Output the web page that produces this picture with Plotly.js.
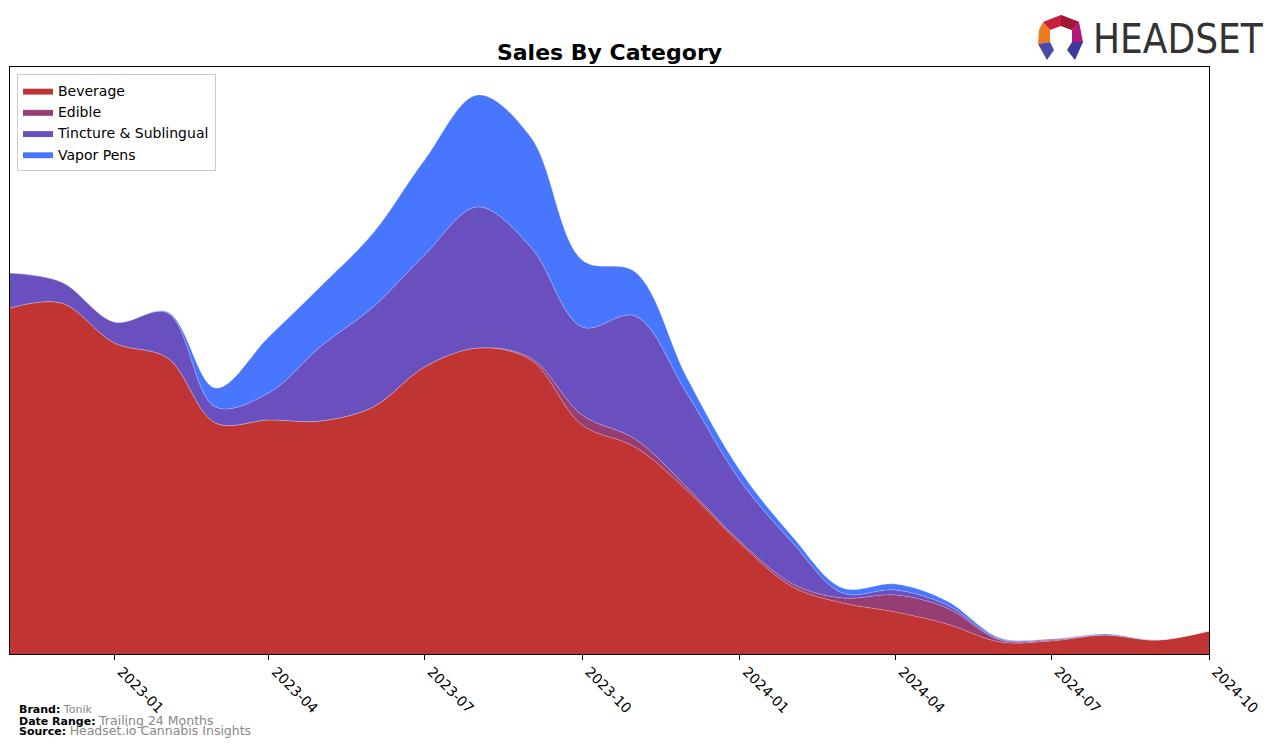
<!DOCTYPE html>
<html>
<head>
<meta charset="utf-8">
<script src="https://cdn.plot.ly/plotly-3.0.1.min.js"></script>
<style>
html,body{margin:0;padding:0;background:#fff;}
#chart{width:1276px;height:747px;}
</style>
</head>
<body>
<div id="chart"></div>
<script>
const months = ["2022-11-01","2022-12-01","2023-01-01","2023-02-01","2023-03-01","2023-04-01","2023-05-01","2023-06-01","2023-07-01","2023-08-01","2023-09-01","2023-10-01","2023-11-01","2023-12-01","2024-01-01","2024-02-01","2024-03-01","2024-04-01","2024-05-01","2024-06-01","2024-07-01","2024-08-01","2024-09-01","2024-10-01"];
const beverage = [346,351,311,296,231,234,233,247,287,306,294,229,207,164,111,67,51,42,30,12,13,19,14,23];
const edible = [0,0,0,0,0,0,0,0,0,0,2,10,8,3,2,3,5,17,16,2,1,0,0,0];
const tincture = [35,21,21,45,16,27,74,100,112,141,111,88,123,94,61,41,5,5,3,1,1,0,0,0];
const vaporPens = [0,0,0,1,19,56,60,74,95,112,110,67,44,16,10,6,5,6,4,1,0,1,0,0];
const tickVals = ["2023-01-01","2023-04-01","2023-07-01","2023-10-01","2024-01-01","2024-04-01","2024-07-01","2024-10-01"];
const tickText = ["2023-01","2023-04","2023-07","2023-10","2024-01","2024-04","2024-07","2024-10"];

const series = [
  {name:"Beverage", y:beverage, color:"#c13434"},
  {name:"Edible", y:edible, color:"#963e73"},
  {name:"Tincture & Sublingual", y:tincture, color:"#6a4fbe"},
  {name:"Vapor Pens", y:vaporPens, color:"#4876ff"}
];

const traces = series.map(s => ({
  type:"scatter", mode:"lines", name:s.name, x:months, y:s.y,
  stackgroup:"one", fillcolor:s.color,
  line:{shape:"spline", smoothing:1, width:0.7, color:"rgba(255,255,255,0.35)"},
  hoverinfo:"x+y+name"
}));

// pixel -> paper helpers for decorations
const L=10,R=1209,T=67,B=654;
const px=x=>(x-L)/(R-L), py=y=>(B-y)/(B-T);
function path(pts){return "M"+pts.map(p=>px(p[0])+","+py(p[1])).join(" L")+" Z";}
const logoParts = [
  {p:[[1043,22],[1061,15],[1079,22],[1072,30],[1061,26],[1050,30]], c:"#c8203a"},
  {p:[[1061,15],[1079,22],[1072,30],[1061,26]], c:"#a01838"},
  {p:[[1043,22],[1050,30],[1050,42],[1038,44],[1039,30]], c:"#f07a22"},
  {p:[[1079,22],[1083,42],[1072,42],[1072,30]], c:"#b5167a"},
  {p:[[1038,44],[1050,42],[1054,50],[1047,60]], c:"#4a4aa8"},
  {p:[[1072,42],[1083,42],[1075,60],[1067,50]], c:"#3a3a9a"}
];
const shapes = logoParts.map(o=>({type:"path", xref:"paper", yref:"paper", path:path(o.p), fillcolor:o.c, line:{width:0}, layer:"above"}));

const foot = (yPix, label, value, vsize) => ({
  xref:"paper", yref:"paper", x:px(17), y:py(yPix), xanchor:"left", yanchor:"middle", showarrow:false,
  text:"<b>"+label+"</b> <span style='color:#888888;font-size:"+vsize+"px'>"+value+"</span>",
  font:{family:"DejaVu Sans", size:11, color:"#000"}
});

const layout = {
  width:1276, height:747,
  margin:{l:L, r:1276-R, t:T, b:747-B},
  paper_bgcolor:"#fff", plot_bgcolor:"#fff",
  font:{family:"DejaVu Sans", color:"#000"},
  title:{text:"<b>Sales By Category</b>", x:(L+R)/2/1276, xanchor:"center", y:1-52/747, yanchor:"middle", font:{family:"DejaVu Sans", size:22, color:"#000"}},
  showlegend:true,
  legend:{x:px(17), y:py(74), xanchor:"left", yanchor:"top", bgcolor:"#fff", bordercolor:"#cccccc", borderwidth:1, font:{family:"DejaVu Sans", size:14, color:"#000"}, traceorder:"normal", tracegroupgap:0, itemwidth:30},
  xaxis:{type:"date", range:["2022-11-01","2024-10-01"], tickvals:tickVals, ticktext:tickText, tickangle:45, ticks:"outside", ticklen:5, tickcolor:"#000", ticklabelshift:7, ticklabelstandoff:-2, showline:true, linecolor:"#000", linewidth:1, mirror:true, showgrid:false, zeroline:false, tickfont:{family:"DejaVu Sans", size:14, color:"#000"}},
  yaxis:{range:[0,587], showticklabels:false, ticks:"", showline:true, linecolor:"#000", linewidth:1, mirror:true, showgrid:false, zeroline:false},
  shapes:shapes,
  annotations:[
    {xref:"paper", yref:"paper", x:px(1091), y:py(39), xanchor:"left", yanchor:"middle", showarrow:false, text:"HEADSET", font:{family:"DejaVu Sans Condensed, Liberation Sans Narrow, DejaVu Sans", size:40, color:"#333333"}},
    foot(709,"Brand:","Tonik",11),
    foot(720,"Date Range:","Trailing 24 Months",12.5),
    foot(730,"Source:","Headset.io Cannabis Insights",12.5)
  ]
};

Plotly.newPlot("chart", traces, layout, {displayModeBar:false, responsive:false});
</script>
</body>
</html>
